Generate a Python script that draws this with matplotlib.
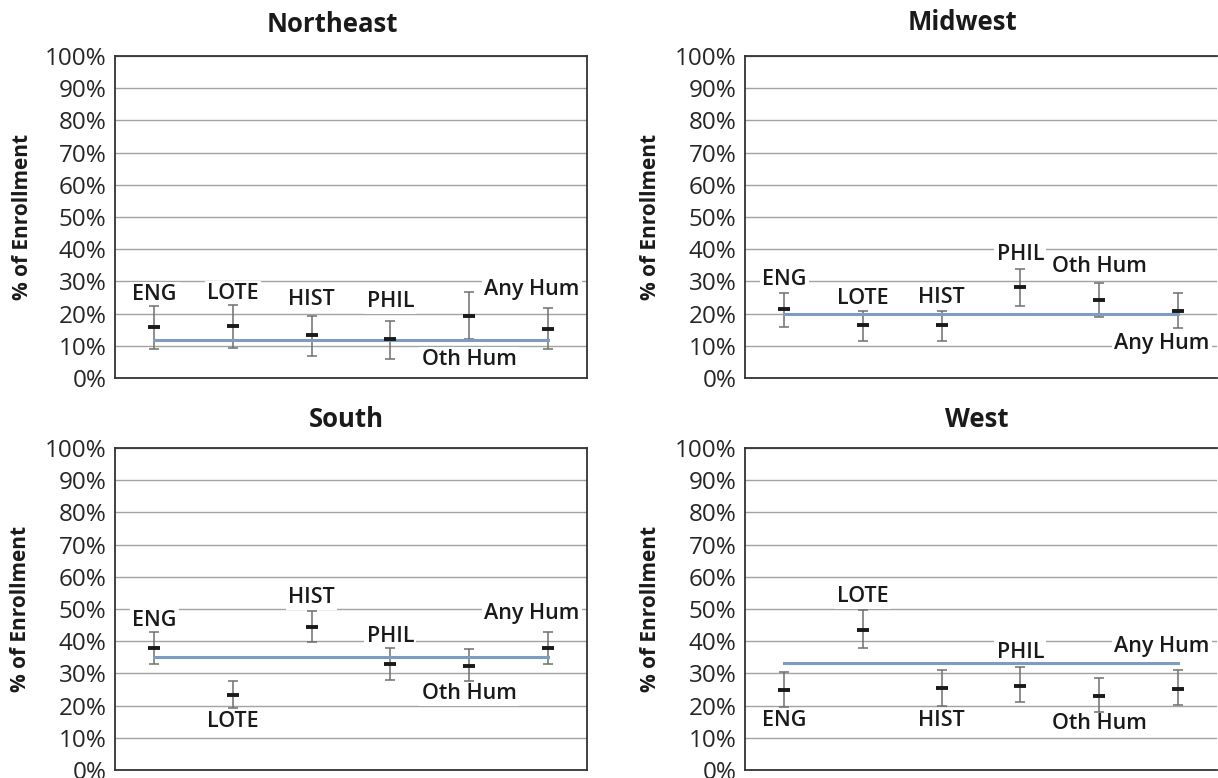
import numpy as np
import matplotlib
matplotlib.use("Agg")
import matplotlib.pyplot as plt
from matplotlib.ticker import FuncFormatter

plt.rcParams['font.family'] = ['Open Sans', 'DejaVu Sans']

categories = ["ENG", "LOTE", "HIST", "PHIL", "Oth Hum", "Any Hum"]

# share of enrollment (%), mean with lower / upper interval bounds
ne_mean = [15.7, 16.0, 13.2, 12.0, 19.4, 15.1]
ne_low = [8.9, 9.3, 6.9, 6.0, 12.0, 8.9]
ne_high = [22.3, 22.8, 19.2, 17.8, 26.7, 21.7]
ne_avg = 11.8

mw_mean = [21.5, 16.6, 16.6, 28.4, 24.3, 20.8]
mw_low = [15.8, 11.5, 11.5, 22.5, 18.9, 15.4]
mw_high = [26.3, 20.8, 20.8, 33.7, 29.6, 26.3]
mw_avg = 19.9

so_mean = [37.8, 23.2, 44.3, 32.8, 32.2, 37.8]
so_low = [33.0, 19.2, 39.6, 28.1, 27.6, 33.0]
so_high = [43.0, 27.5, 49.4, 38.0, 37.5, 43.0]
so_avg = 35.1

we_mean = [24.7, 43.4, 25.6, 26.2, 23.1, 25.3]
we_low = [19.6, 38.0, 20.0, 21.1, 18.1, 20.1]
we_high = [30.5, 49.6, 31.0, 32.0, 28.5, 31.0]
we_avg = 33.1

# label placement: vertical offset from the mean (in % points)
ne_lab = [10.2, 10.2, 11.3, 11.8, -13.7, 12.5]
mw_lab = [9.1, 8.0, 8.3, 9.8, 10.3, -10.0]
so_lab = [8.5, -8.0, 9.2, 8.8, -8.3, 10.8]
we_lab = [-9.4, 10.4, -10.3, 10.2, -8.7, 13.2]

W, H = 1218, 778
fig = plt.figure(figsize=(W / 100, H / 100), dpi=100)

panels = [
    ("Northeast", ne_mean, ne_low, ne_high, ne_avg, ne_lab, 115, 56, 332, 24, 23),
    ("Midwest", mw_mean, mw_low, mw_high, mw_avg, mw_lab, 745, 56, 963, 22, 651),
    ("South", so_mean, so_low, so_high, so_avg, so_lab, 115, 448, 346, 419, 21),
    ("West", we_mean, we_low, we_high, we_avg, we_lab, 745, 448, 977, 419, 651),
]

aw, ah = 472, 322

for title, mean, low, high, avg, lab, left, top, tx, ty, yx in panels:
    ax = fig.add_axes([left / W, 1 - (top + ah) / H, aw / W, ah / H])
    x = np.arange(len(categories)) + 0.5
    mean = np.array(mean)
    yerr = [mean - np.array(low), np.array(high) - mean]

    ax.errorbar(x, mean, yerr=yerr, fmt="none", ecolor="#6f6f6f",
                elinewidth=1.1, capsize=3.5, capthick=1.1, zorder=2)
    ax.plot([x[0], x[-1]], [avg, avg], color="#7d9cc4", lw=2.2, zorder=3)
    ax.plot(x, mean, ls="none", marker="_", ms=9, mew=2.8,
            color="#1a1a1a", zorder=4)

    # series labels sit on white boxes that break the gridlines
    for i, name in enumerate(categories):
        dx = -0.2 if name == "Any Hum" else 0
        ax.text(x[i] + dx, mean[i] + lab[i], name, ha="center", va="center",
                fontsize=15.5, fontweight="semibold", color="#1a1a1a",
                bbox=dict(facecolor="white", edgecolor="none", pad=1.5),
                zorder=1.5)

    ax.set_xlim(0, len(categories))
    ax.set_ylim(0, 100)
    ax.set_yticks(np.arange(0, 101, 10))
    ax.yaxis.set_major_formatter(FuncFormatter(lambda v, p: f"{v:.0f}%"))
    ax.set_xticks([])
    ax.tick_params(axis="y", length=0, pad=6, labelsize=17.5, labelcolor="#262626")
    ax.yaxis.grid(True, color="#a3a3a3", lw=1.0)
    ax.set_axisbelow(True)
    for s in ax.spines.values():
        s.set_color("#333333")
        s.set_linewidth(1.3)
    if left > W / 2:
        ax.spines["right"].set_visible(False)

    fig.text(tx / W, 1 - ty / H, title, ha="center", va="center",
             fontsize=18.5, fontweight="bold", color="#1a1a1a")
    fig.text(yx / W, 1 - (top + ah / 2) / H, "% of Enrollment", rotation=90,
             ha="center", va="center", fontsize=15, fontweight="bold",
             color="#1a1a1a")

fig.savefig("out.png", dpi=100)
